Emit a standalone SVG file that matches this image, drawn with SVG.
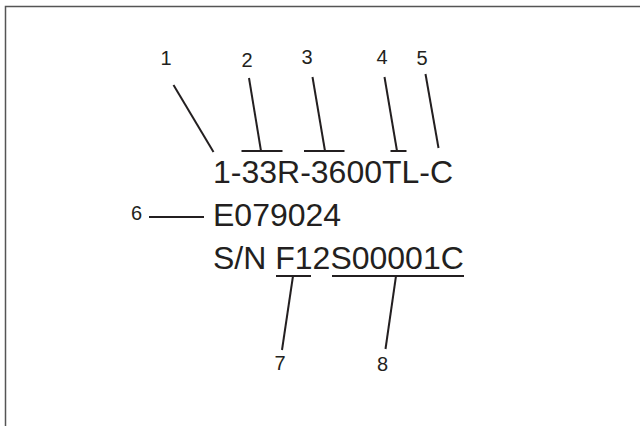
<svg xmlns="http://www.w3.org/2000/svg" width="640" height="426" viewBox="0 0 640 426">
<style>
.main{font-family:"Liberation Sans",Arial,sans-serif;font-size:32px;fill:#231f20}
.lbl{font-family:"Liberation Sans",Arial,sans-serif;font-size:20px;fill:#231f20;text-anchor:middle}
.ln{stroke:#231f20;stroke-width:2;fill:none;stroke-linecap:butt}
</style>
<rect width="640" height="426" fill="#fff"/>
<path d="M5.5 426 V6.5 H640" fill="none" stroke="#555" stroke-width="1.5"/>
<g id="text-model"><text class="main" x="213" y="183">1-33R-3600TL-C</text></g>
<g id="text-code"><text class="main" x="213" y="226">E079024</text></g>
<g id="text-sn"><text class="main" x="213" y="269">S/N F12S00001C</text></g>
<g id="label-1"><text class="lbl" x="166" y="65">1</text></g>
<g id="label-2"><text class="lbl" x="247" y="66.5">2</text></g>
<g id="label-3"><text class="lbl" x="307" y="63.5">3</text></g>
<g id="label-4"><text class="lbl" x="382" y="64">4</text></g>
<g id="label-5"><text class="lbl" x="422" y="65">5</text></g>
<g id="label-6"><text class="lbl" x="136.5" y="220">6</text></g>
<g id="label-7"><text class="lbl" x="280" y="370">7</text></g>
<g id="label-8"><text class="lbl" x="382.5" y="370.5">8</text></g>
<g id="connectors">
<line class="ln" x1="173.5" y1="85" x2="213.5" y2="152"/>
<line class="ln" x1="249" y1="78" x2="261" y2="151"/>
<line class="ln" x1="241.5" y1="151" x2="282.5" y2="151"/>
<line class="ln" x1="312.5" y1="77" x2="325" y2="151"/>
<line class="ln" x1="304" y1="151" x2="344.5" y2="151"/>
<line class="ln" x1="384.5" y1="77" x2="397" y2="151"/>
<line class="ln" x1="390.5" y1="151" x2="406.5" y2="151"/>
<line class="ln" x1="425.5" y1="74" x2="438.5" y2="148"/>
<line class="ln" x1="149" y1="217" x2="204" y2="217"/>
<line class="ln" x1="276" y1="276" x2="311" y2="276"/>
<line class="ln" x1="293" y1="276" x2="282" y2="350"/>
<line class="ln" x1="332" y1="276" x2="464" y2="276"/>
<line class="ln" x1="396" y1="276" x2="385.5" y2="349"/>
</g>
</svg>
